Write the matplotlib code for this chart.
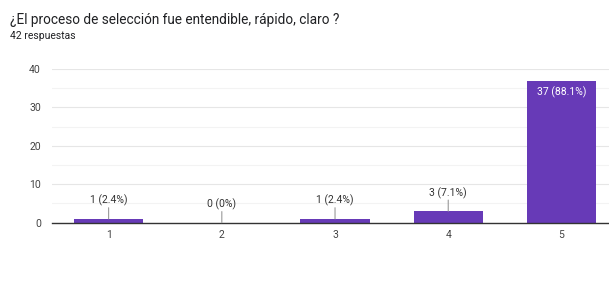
import matplotlib.pyplot as plt
from matplotlib.transforms import offset_copy

plt.rcParams['font.family'] = ['Roboto', 'DejaVu Sans']

# Data
categories = ['1', '2', '3', '4', '5']
counts = [1, 0, 1, 3, 37]
labels = ['1 (2.4%)', '0 (0%)', '1 (2.4%)', '3 (7.1%)', '37 (88.1%)']

bar_color = '#673ab7'

fig = plt.figure(figsize=(6.09, 2.83), dpi=100)
ax = fig.add_axes([52 / 609, 60.3 / 283, 1 - 52 / 609, 153.7 / 283])

x = list(range(len(categories)))
ax.bar(x, counts, width=0.61, color=bar_color, zorder=3)

ax.set_xlim(-0.5, 4.42)
ax.set_ylim(0, 40)
ax.set_yticks([0, 10, 20, 30, 40])
ax.set_yticks([5, 15, 25, 35], minor=True)
ax.set_xticks(x)
ax.set_xticklabels(categories)
ax.grid(axis='y', which='major', color='#e6e6e6', linewidth=0.8, zorder=0)
ax.grid(axis='y', which='minor', color='#f3f3f3', linewidth=0.8, zorder=0)
ax.tick_params(axis='both', which='both', length=0, labelsize=7.5, colors='#444444')
ax.tick_params(axis='x', pad=5)
ax.tick_params(axis='y', pad=8)
for s in ['top', 'right', 'left']:
    ax.spines[s].set_visible(False)
ax.spines['bottom'].set_color('#333333')
ax.spines['bottom'].set_linewidth(1.0)
ax.spines['bottom'].set_zorder(4)

# Value labels
for xi, c, lab in zip(x, counts, labels):
    if c > 30:
        ax.text(xi, c, lab, ha='center', va='top', color='white', fontsize=7.5,
                transform=offset_copy(ax.transData, fig=fig, x=0, y=-4, units='points'))
    else:
        ax.annotate('', xy=(xi, c), xytext=(0, 8), textcoords='offset points',
                    arrowprops=dict(arrowstyle='-', color='#999999', lw=0.8,
                                    shrinkA=0, shrinkB=0), zorder=5)
        ax.annotate(lab, xy=(xi, c), xytext=(0, 9), textcoords='offset points',
                    ha='center', va='bottom', fontsize=7.5, color='#333333')

fig.text(10 / 609, 1 - 20 / 283, '¿El proceso de selección fue entendible, rápido, claro ?',
         fontsize=9.8, color='#202124', va='center')
fig.text(10 / 609, 1 - 36 / 283, '42 respuestas', fontsize=7.5, color='#202124', va='center')

fig.savefig('out.png', dpi=100)
